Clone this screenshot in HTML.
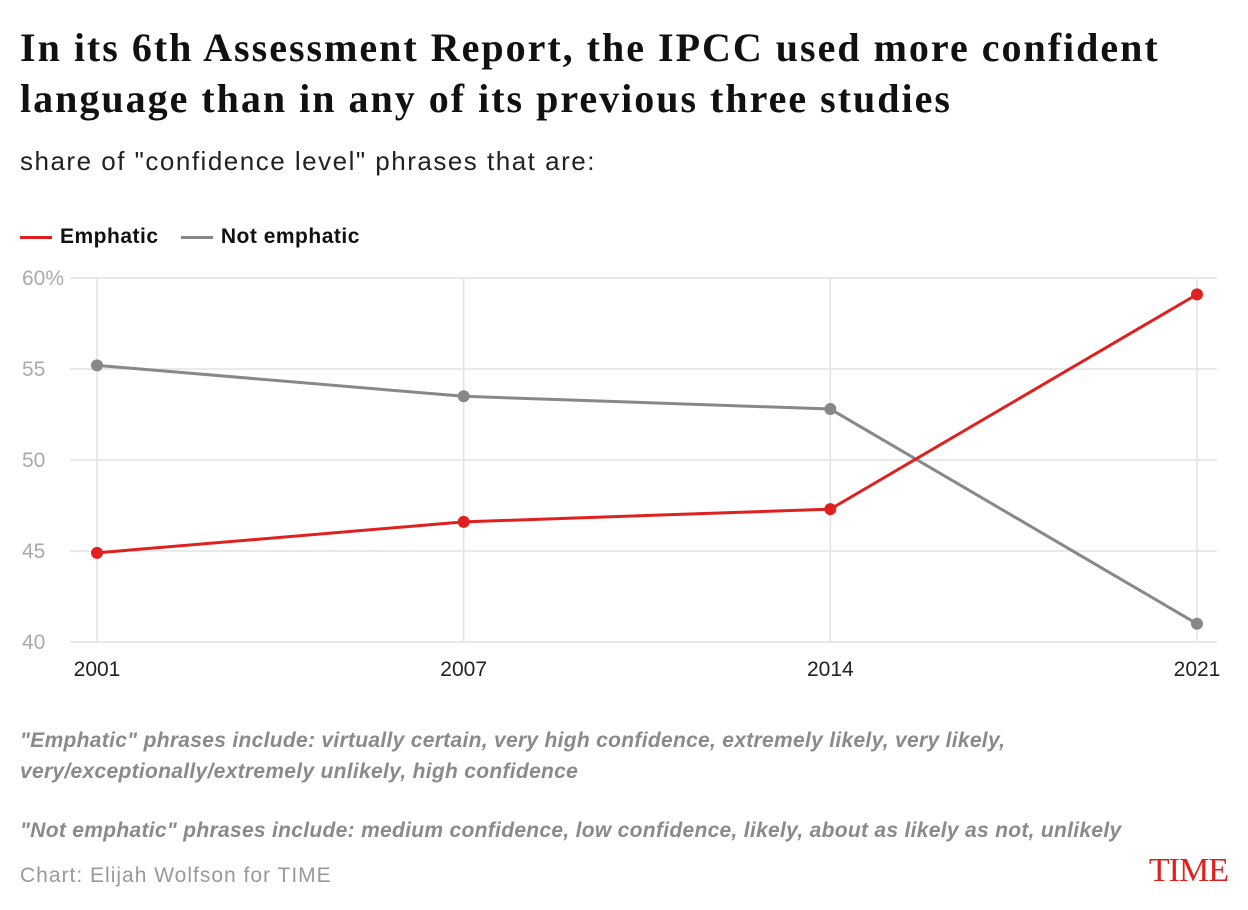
<!DOCTYPE html>
<html><head><meta charset="utf-8"><style>
body{margin:0;width:1248px;height:910px;background:#fff;font-family:"Liberation Sans",sans-serif;position:relative;overflow:hidden}
.t{position:absolute;white-space:nowrap}
</style></head><body>
<div class="t" style="left:20px;top:22px;font-family:'Liberation Serif',serif;font-weight:bold;font-size:40px;letter-spacing:2px;line-height:51px;color:#111">In its 6th Assessment Report, the IPCC used more confident<br>language than in any of its previous three studies</div>
<div class="t" style="left:20px;top:146px;font-size:26px;letter-spacing:1.5px;color:#222">share of "confidence level" phrases that are:</div>
<div class="t" style="left:20px;top:225px;font-size:21px;letter-spacing:0.5px;font-weight:bold;color:#111">
<span><span style="display:inline-block;width:32px;height:3px;background:#e0201f;vertical-align:middle;margin-right:8px"></span>Emphatic</span>
<span style="margin-left:16px"><span style="display:inline-block;width:32px;height:3px;background:#888;vertical-align:middle;margin-right:8px"></span>Not emphatic</span></div>
<svg id="chart" width="1248" height="700" style="position:absolute;left:0;top:0"></svg>
<div class="t" style="left:20px;top:725px;font-size:21px;letter-spacing:0.3px;line-height:31px;font-style:italic;font-weight:bold;color:#8a8a8a">"Emphatic" phrases include: virtually certain, very high confidence, extremely likely, very likely,<br>very/exceptionally/extremely unlikely, high confidence</div>
<div class="t" style="left:20px;top:819px;font-size:21px;letter-spacing:0.3px;font-style:italic;font-weight:bold;color:#8a8a8a">"Not emphatic" phrases include: medium confidence, low confidence, likely, about as likely as not, unlikely</div>
<div class="t" style="left:20px;top:864px;font-size:21px;letter-spacing:1px;color:#999">Chart: Elijah Wolfson for TIME</div>
<div class="t" style="right:20px;top:852px;font-family:'Liberation Serif',serif;font-size:34px;color:#e0201f;letter-spacing:-1px">TIME</div>
<script>
const categories=["2001","2007","2014","2021"];
const emphatic=[44.9,46.6,47.3,59.1];
const notEmphatic=[55.2,53.5,52.8,41.0];
const yTicks=[40,45,50,55,60];
const yTickLabels=["40","45","50","55","60%"];
const svg=document.getElementById('chart');
const NS='http://www.w3.org/2000/svg';
const x0=97,x1=1197,yTop=278,yBot=642,yMin=40,yMax=60;
const xs=i=>x0+i*(x1-x0)/(categories.length-1);
const ys=v=>yBot-(v-yMin)/(yMax-yMin)*(yBot-yTop);
function mk(tag,attrs){const e=document.createElementNS(NS,tag);for(const k in attrs)e.setAttribute(k,attrs[k]);svg.appendChild(e);return e;}
yTicks.forEach((t,i)=>{
 const l=mk('line',{x1:70,x2:1217,y1:ys(t),y2:ys(t),stroke:'#e2e2e2','stroke-width':1.5});
 
 
 const tx=mk('text',{x:22,y:ys(t)+7,'font-size':21,fill:'#aaa','font-family':'Liberation Sans,sans-serif'});
 tx.textContent=yTickLabels[i];
 
 
});
categories.forEach((c,i)=>{
 const l=mk('line',{x1:xs(i),x2:xs(i),y1:yTop,y2:yBot,stroke:'#e2e2e2','stroke-width':1.5});
 
 
 const tx=mk('text',{x:xs(i),y:676,'font-size':21,fill:'#222','text-anchor':'middle','font-family':'Liberation Sans,sans-serif'});
 tx.textContent=c;
 
 
});
function series(vals,color,name){
 const p=mk('polyline',{points:vals.map((v,i)=>xs(i)+','+ys(v)).join(' '),fill:'none',stroke:color,'stroke-width':3});
 
 
 vals.forEach((v,i)=>{
  const c=mk('circle',{cx:xs(i),cy:ys(v),r:6,fill:color});
  
  
 });
}
series(notEmphatic,'#888','not-emphatic');
series(emphatic,'#e0201f','emphatic');
</script>
</body></html>
